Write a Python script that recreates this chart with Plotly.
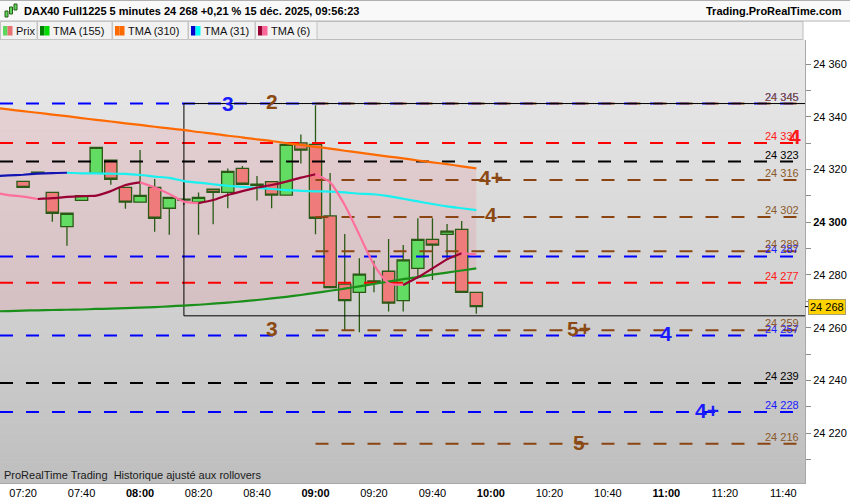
import plotly.graph_objects as go

FONT = "Liberation Sans, Arial, sans-serif"

# ---------------- data ----------------
bar_times = ["07:20", "07:25", "07:30", "07:35", "07:40", "07:45", "07:50", "07:55",
             "08:00", "08:05", "08:10", "08:15", "08:20", "08:25", "08:30", "08:35",
             "08:40", "08:45", "08:50", "08:55", "09:00", "09:05", "09:10", "09:15",
             "09:20", "09:25", "09:30", "09:35", "09:40", "09:45", "09:50", "09:55"]
ma_times = ["07:10", "07:15"] + bar_times

opens = [24315.5, 24318.6, 24311.3, 24298.3, 24308.3, 24318.5, 24323.5, 24313.2,
         24307.6, 24313.2, 24305.3, 24308.4, 24307.6, 24312.5, 24311.3, 24320.4,
         24314.0, 24315.4, 24310.3, 24330.1, 24329.5, 24302.4, 24276.5, 24273.4,
         24277.3, 24281.4, 24270.3, 24282.5, 24293.5, 24295.4, 24297.3, 24273.4]
highs = [24315.5, 24319.1, 24311.3, 24303.4, 24310.1, 24328.4, 24323.5, 24313.2,
         24327.4, 24316.4, 24309.4, 24315.4, 24311.3, 24312.5, 24320.4, 24321.3,
         24317.5, 24315.6, 24329.5, 24333.3, 24344.4, 24318.7, 24295.5, 24286.3,
         24285.4, 24293.6, 24291.4, 24301.5, 24301.5, 24299.3, 24300.5, 24273.4]
lows = [24313.2, 24318.5, 24300.2, 24291.1, 24308.3, 24318.5, 24314.2, 24305.1,
        24307.6, 24296.4, 24295.2, 24306.5, 24295.2, 24299.2, 24305.3, 24314.4,
        24308.2, 24305.3, 24310.3, 24322.3, 24295.4, 24275.2, 24259.1, 24258.3,
        24273.4, 24266.1, 24266.1, 24278.7, 24278.1, 24285.7, 24273.4, 24265.3]
closes = [24313.2, 24319.0, 24303.4, 24303.4, 24310.1, 24328.4, 24316.3, 24307.6,
          24310.2, 24301.5, 24309.4, 24308.7, 24309.4, 24311.3, 24319.3, 24314.4,
          24314.4, 24310.3, 24329.5, 24327.3, 24301.5, 24275.2, 24270.3, 24280.3,
          24277.7, 24269.3, 24285.7, 24293.5, 24291.3, 24296.6, 24273.4, 24268.0]

tma155 = [24266.2, 24266.3, 24266.5, 24266.6, 24266.7, 24266.8, 24266.9, 24267.1,
          24267.2, 24267.4, 24267.6, 24267.8, 24268.1, 24268.4, 24268.7, 24269.1,
          24269.5, 24270.0, 24270.5, 24271.1, 24271.7, 24272.4, 24273.2, 24274.0,
          24274.8, 24275.7, 24276.6, 24277.5, 24278.4, 24279.2, 24280.1, 24280.9,
          24281.7, 24282.5]
tma310 = [24343.5, 24342.8, 24342.1, 24341.5, 24340.8, 24340.2, 24339.5, 24338.8,
          24338.2, 24337.5, 24336.9, 24336.2, 24335.6, 24335.0, 24334.2, 24333.6,
          24332.8, 24332.2, 24331.4, 24330.8, 24330.0, 24329.3, 24328.6, 24327.9,
          24327.1, 24326.4, 24325.6, 24324.9, 24324.2, 24323.4, 24322.7, 24322.0,
          24321.2, 24320.4]
tma31 = [24317.5, 24317.75, 24318.0, 24318.4, 24318.65, 24318.75, 24318.55, 24318.5,
         24318.4, 24318.3, 24317.9, 24317.3, 24316.8, 24315.6, 24315.0, 24314.4,
         24313.8, 24313.4, 24313.0, 24312.6, 24312.2, 24311.9, 24311.7, 24311.6,
         24311.3, 24310.8, 24310.6, 24309.9, 24308.9, 24307.9, 24306.9, 24306.0,
         24305.3, 24304.6]
tma6 = [24311.3, 24310.3, 24309.7, 24308.8, 24309.1, 24309.6, 24309.9, 24310.1,
        24311.8, 24314.1, 24315.1, 24313.2, 24310.7, 24307.8, 24307.2, 24308.4,
        24310.3, 24311.8, 24313.1, 24314.1, 24315.4, 24316.9, 24318.2, 24315.1,
        24306.5, 24295.2, 24283.8, 24276.8, 24276.2, 24279.1, 24282.5, 24285.9,
        24288.2, 24287.8]

blue_levels = [24345, 24287, 24257, 24228]
red_levels = [24330, 24277]
black_levels = [24323, 24239]
brown_levels = [24345, 24316, 24302, 24289, 24259, 24216]
brown_start = "09:00"

box_start = "08:15"
box_top = 24345
box_bottom = 24264.5

last_price = 24268

# (text, time, level, colour key, vertical shift px)
wave_marks = [("3", "08:30", 24345, "blue", 0), ("2", "08:45", 24345, "brown", 2),
              ("3", "08:45", 24259, "brown", 2), ("4", "11:44", 24330, "red", 7),
              ("4+", "10:00", 24316, "brown", 3), ("4", "10:00", 24302, "brown", 2),
              ("5+", "10:30", 24259, "brown", 2), ("4", "11:00", 24257, "blue", 2),
              ("4+", "11:14", 24228, "blue", 2), ("5", "10:30", 24216, "brown", 1)]

x_tick_labels = ["07:20", "07:40", "08:00", "08:20", "08:40", "09:00", "09:20",
                 "09:40", "10:00", "10:20", "10:40", "11:00", "11:20", "11:40"]
y_tick_vals = [24220, 24240, 24260, 24280, 24300, 24320, 24340, 24360]
y_minor_vals = [24210, 24230, 24250, 24270, 24290, 24310, 24330, 24350]

title_text = "DAX40 Full1225 5 minutes 24 268 +0,21 % 15 déc. 2025, 09:56:23"
site_text = "Trading.ProRealTime.com"
footer_text = "ProRealTime Trading\u00a0\u00a0Historique ajusté aux rollovers"
legend_items = [("Prix", ["#5cd65c", "#e87070"]), ("TMA (155)", ["#008000", "#00dd00"]),
                ("TMA (310)", ["#ff6a00", "#ff6a00"]), ("TMA (31)", ["#0000cc", "#00ffff"]),
                ("TMA (6)", ["#990033", "#ff6699"])]

# ---------------- helpers ----------------
def tmin(s):
    p = [float(v) for v in s.split(":")]
    return p[0] * 60 + p[1] + (p[2] / 60 if len(p) > 2 else 0)

X_LEFT = tmin("07:12:06")
X_RIGHT = tmin("11:47:25")
Y_LOW, Y_HIGH = 24201.1, 24369.1

PLOT_W, PLOT_TOP, PLOT_BOT = 805, 40, 483
PLOT_H = PLOT_BOT - PLOT_TOP


def pxx(x):
    return x / PLOT_W


def pxy(y):
    return (PLOT_BOT - y) / PLOT_H


def fmt(v):
    return f"{v:,.0f}".replace(",", " ")


COL = {"blue": "#0000ff", "red": "#ff0000", "black": "#000000", "brown": "#8b4513"}
TXT = {"blue": "#1a1aff", "red": "#ff1a1a", "black": "#000000", "brown": "#8b5a2b"}

bx = [tmin(t) for t in bar_times]
mx = [tmin(t) for t in ma_times]

fig = go.Figure()
shapes = []
annotations = []

# background gradient of the price panel
N = 44
for i in range(N):
    g = int(round(234 - (234 - 191) * i / (N - 1)))
    shapes.append(dict(type="rect", xref="paper", yref="paper", layer="below",
                       x0=0, x1=1, y0=1 - (i + 1) / N, y1=1 - i / N + 0.001,
                       fillcolor=f"rgb({g},{g},{g})", line=dict(width=0)))

# pink fill between TMA(310) and TMA(155)
path = "M " + " L ".join(f"{x},{y}" for x, y in zip(mx, tma310))
path += " L " + " L ".join(f"{x},{y}" for x, y in zip(mx[::-1], tma155[::-1])) + " Z"
shapes.append(dict(type="path", xref="x", yref="y", layer="below", path=path,
                   fillcolor="rgba(240,120,130,0.17)", line=dict(width=0)))

# candles
fig.add_trace(go.Candlestick(
    x=bx, open=opens, high=highs, low=lows, close=closes,
    increasing=dict(fillcolor="#62dc62", line=dict(color="#2b5a16", width=1.3)),
    decreasing=dict(fillcolor="#ef7b7b", line=dict(color="#2b5a16", width=1.3)),
    whiskerwidth=0, hoverinfo="skip", showlegend=False))

# horizontal dashed levels
def add_level(level, key, start):
    fig.add_trace(go.Scatter(x=[start, X_RIGHT], y=[level, level], mode="lines",
                             line=dict(color=COL[key], width=2, dash="13px,13px"),
                             hoverinfo="skip", showlegend=False))
    annotations.append(dict(x=1, xref="paper", y=level, yref="y", xanchor="right",
                            yanchor="bottom", xshift=-4, yshift=-1, showarrow=False,
                            text=fmt(level), font=dict(family=FONT, size=11, color=TXT[key])))


for lv in red_levels:
    add_level(lv, "red", X_LEFT)
for lv in black_levels:
    add_level(lv, "black", X_LEFT)
for lv in blue_levels:
    add_level(lv, "blue", X_LEFT)
for lv in brown_levels:
    add_level(lv, "brown", tmin(brown_start))

# box
bs = tmin(box_start)
fig.add_trace(go.Scatter(x=[X_RIGHT + 5, bs, bs, X_RIGHT + 5],
                         y=[box_top, box_top, box_bottom, box_bottom], mode="lines",
                         line=dict(color="#000000", width=1), hoverinfo="skip",
                         showlegend=False, cliponaxis=True))


# moving averages (colour by slope)
def runs(xs, ys):
    out = []
    cx, cy, cur = [xs[0]], [ys[0]], None
    for i in range(1, len(ys)):
        up = ys[i] >= ys[i - 1]
        if cur is None:
            cur = up
        if up != cur:
            out.append((cx, cy, cur))
            cx, cy, cur = [xs[i - 1]], [ys[i - 1]], up
        cx.append(xs[i])
        cy.append(ys[i])
    out.append((cx, cy, cur))
    return out


def add_ma(ys, up_col, down_col, width=2.2):
    for sx, sy, up in runs(mx, ys):
        fig.add_trace(go.Scatter(x=sx, y=sy, mode="lines",
                                 line=dict(color=up_col if up else down_col, width=width,
                                           shape="spline", smoothing=0.6),
                                 hoverinfo="skip", showlegend=False))


add_ma(tma155, "#1a8f1a", "#00dd00")
add_ma(tma310, "#ff6a00", "#ff6a00")
add_ma(tma31, "#1414b4", "#19f0f0")
add_ma(tma6, "#990033", "#ff6f9c")

# wave marks
for text, t, lv, key, sh in wave_marks:
    annotations.append(dict(x=tmin(t), y=lv, xref="x", yref="y", text=f"<b>{text}</b>",
                            showarrow=False, xanchor="center", yanchor="middle", yshift=sh,
                            font=dict(family=FONT, size=21, color=TXT[key] if key != "brown" else "#8b4a13")))

# last price label
annotations.append(dict(x=1, xref="paper", y=last_price, yref="y", xanchor="left", xshift=3,
                        yanchor="middle", showarrow=False, text=fmt(last_price),
                        bgcolor="#ffd200", bordercolor="#a8a070", borderwidth=1, borderpad=1,
                        font=dict(family=FONT, size=11, color="#000000")))
shapes.append(dict(type="line", xref="paper", yref="y", x0=1, x1=1 + 3 / PLOT_W,
                   y0=last_price, y1=last_price, line=dict(color="#000000", width=1)))

# header bar
shapes.append(dict(type="rect", xref="paper", yref="paper", x0=pxx(0), x1=pxx(850),
                   y0=pxy(21), y1=pxy(0), fillcolor="#f9f9f9", line=dict(width=0)))
shapes.append(dict(type="line", xref="paper", yref="paper", x0=pxx(0), x1=pxx(850),
                   y0=pxy(0.5), y1=pxy(0.5), line=dict(color="#b0b0b0", width=1)))
shapes.append(dict(type="line", xref="paper", yref="paper", x0=pxx(0), x1=pxx(850),
                   y0=pxy(21), y1=pxy(21), line=dict(color="#b4b4b4", width=1)))
# header icon
for (x0, x1, y0, y1, c) in [(5, 8, 11, 17, "#5cd65c"), (9.5, 12.5, 7, 14, "#5cd65c"), (14, 17, 4, 10, "#5cd65c")]:
    shapes.append(dict(type="rect", xref="paper", yref="paper", x0=pxx(x0), x1=pxx(x1),
                       y0=pxy(y1), y1=pxy(y0), fillcolor=c, line=dict(color="#2b5a16", width=1)))
annotations.append(dict(x=pxx(22), y=pxy(11), xref="paper", yref="paper", xanchor="left",
                        yanchor="middle", showarrow=False, text=f"<b>{title_text}</b>",
                        font=dict(family=FONT, size=11, color="#000000")))
annotations.append(dict(x=pxx(844), y=pxy(11), xref="paper", yref="paper", xanchor="right",
                        yanchor="middle", showarrow=False, text=f"<b>{site_text}</b>",
                        font=dict(family=FONT, size=11, color="#000000")))

# legend row
shapes.append(dict(type="rect", xref="paper", yref="paper", x0=pxx(0), x1=pxx(803),
                   y0=pxy(39.5), y1=pxy(21.5), fillcolor="#ebebeb",
                   line=dict(color="#bcbcbc", width=1)))
item_bounds = [(0, 37), (37, 112), (112, 188), (188, 255), (255, 317)]
for (name, cols), (a, b) in zip(legend_items, item_bounds):
    shapes.append(dict(type="rect", xref="paper", yref="paper", x0=pxx(a + 0.5), x1=pxx(b),
                       y0=pxy(39.5), y1=pxy(21.5), fillcolor="#f2f2f2",
                       line=dict(color="#c4c4c4", width=1)))
    sx = a + 3
    shapes.append(dict(type="rect", xref="paper", yref="paper", x0=pxx(sx), x1=pxx(sx + 4.5),
                       y0=pxy(35.5), y1=pxy(26), fillcolor=cols[0], line=dict(width=0)))
    shapes.append(dict(type="rect", xref="paper", yref="paper", x0=pxx(sx + 4.5), x1=pxx(sx + 9.5),
                       y0=pxy(35.5), y1=pxy(26), fillcolor=cols[1], line=dict(width=0)))
    annotations.append(dict(x=pxx(sx + 11), y=pxy(31), xref="paper", yref="paper",
                            xanchor="left", yanchor="middle", showarrow=False, text=name,
                            font=dict(family=FONT, size=11, color="#111111")))

# footer text inside the panel
annotations.append(dict(x=pxx(2), y=pxy(475), xref="paper", yref="paper", xanchor="left",
                        yanchor="middle", showarrow=False, text=footer_text,
                        font=dict(family=FONT, size=11, color="#1a1a1a")))

xt_vals = [tmin(t) for t in x_tick_labels]
xt_text = [f"<b>{t}</b>" if t.endswith(":00") else t for t in x_tick_labels]
yt_text = [f"<b>{fmt(v)}</b>" if v % 100 == 0 else fmt(v) for v in y_tick_vals]

fig.update_layout(
    width=850, height=500, autosize=False,
    margin=dict(l=0, r=45, t=40, b=17, pad=0),
    paper_bgcolor="#ffffff", plot_bgcolor="#d6d6d6",
    showlegend=False, boxgap=0.16, boxgroupgap=0,
    font=dict(family=FONT, size=11, color="#000000"),
    shapes=shapes, annotations=annotations,
    xaxis=dict(range=[X_LEFT, X_RIGHT], tickmode="array", tickvals=xt_vals, ticktext=xt_text,
               showgrid=False, zeroline=False, showline=True, linecolor="#a8a8a8",
               ticks="", tickfont=dict(family=FONT, size=11, color="#000000"),
               rangeslider=dict(visible=False), fixedrange=True),
    yaxis=dict(range=[Y_LOW, Y_HIGH], side="right", tickmode="array", tickvals=y_tick_vals,
               ticktext=yt_text, showgrid=False, zeroline=False, showline=True,
               linecolor="#a8a8a8", ticks="outside", ticklen=5, tickcolor="#8c8c8c",
               minor=dict(tickvals=y_minor_vals, ticks="outside", ticklen=5, tickcolor="#8c8c8c"),
               tickfont=dict(family=FONT, size=11, color="#000000"), fixedrange=True),
)

fig.write_html("out.html", config={"displayModeBar": False},
               post_script="document.body.style.margin='0';document.body.style.overflow='hidden';")
